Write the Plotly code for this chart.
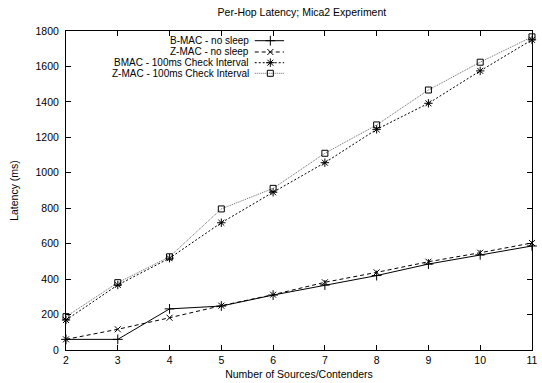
import plotly.graph_objects as go

# Number of competing sources and measured per-hop latency (ms)
contenders = [2, 3, 4, 5, 6, 7, 8, 9, 10, 11]
bmac_nosleep = [60, 60, 232, 248, 310, 367, 420, 485, 537, 587]
zmac_nosleep = [60, 117, 182, 250, 312, 382, 438, 498, 549, 604]
bmac_100ms = [169, 367, 518, 718, 890, 1057, 1245, 1392, 1575, 1750]
zmac_100ms = [188, 380, 526, 796, 912, 1110, 1270, 1467, 1624, 1767]

series_names = [
    "B-MAC - no sleep",
    "Z-MAC - no sleep",
    "BMAC - 100ms Check Interval",
    "Z-MAC - 100ms Check Interval",
]
x_ticks = contenders
y_ticks = [0, 200, 400, 600, 800, 1000, 1200, 1400, 1600, 1800]

FONT = "Liberation Sans, Arial, Helvetica, sans-serif"
FS = 10.5

styles = [
    dict(color="black", dash="solid", symbol="cross-thin", size=7),
    dict(color="black", dash="4px,3px", symbol="x-thin", size=6),
    dict(color="black", dash="2px,2px", symbol="asterisk", size=7),
    dict(color="#666666", dash="1px,1px", symbol="square-open", size=6),
]
values = [bmac_nosleep, zmac_nosleep, bmac_100ms, zmac_100ms]

fig = go.Figure()
for name, ys, st in zip(series_names, values, styles):
    fig.add_trace(go.Scatter(
        x=contenders, y=ys, name=name, mode="lines+markers",
        line=dict(color=st["color"], width=1, dash=st["dash"]),
        marker=dict(symbol=st["symbol"], size=st["size"], color="black",
                    line=dict(color="black", width=1)),
        showlegend=False, cliponaxis=False,
    ))

# Key in the upper-left corner: label text followed by a line sample
key_rows = [0.9696, 0.9342, 0.9006, 0.8674]
for name, st, v in zip(series_names, styles, key_rows):
    fig.add_trace(go.Scatter(
        x=[0.405, 0.468], y=[v, v], mode="lines", xaxis="x2", yaxis="y2",
        line=dict(color=st["color"], width=1, dash=st["dash"]),
        showlegend=False, hoverinfo="skip",
    ))
    fig.add_trace(go.Scatter(
        x=[0.4385], y=[v], mode="markers", xaxis="x2", yaxis="y2",
        marker=dict(symbol=st["symbol"], size=st["size"], color="black",
                    line=dict(color="black", width=1)),
        showlegend=False, hoverinfo="skip",
    ))
    fig.add_annotation(
        x=0.394, y=v, xref="x2", yref="y2", text=name, showarrow=False,
        xanchor="right", yanchor="middle", borderpad=0,
        font=dict(size=10, color="black", family=FONT),
    )

axis_common = dict(
    showline=True, linecolor="black", linewidth=1, mirror="allticks",
    ticks="inside", ticklen=5, tickcolor="black", tickwidth=1,
    showgrid=False, zeroline=False, ticklabeloverflow="allow",
    tickfont=dict(size=FS, color="black", family=FONT),
)

fig.update_layout(
    width=542, height=383,
    margin=dict(l=66, r=4, t=31, b=33),
    paper_bgcolor="white", plot_bgcolor="white",
    title=dict(text="Per-Hop Latency; Mica2 Experiment", x=0.557, xanchor="center",
               y=0.968, yanchor="middle",
               font=dict(size=FS, color="black", family=FONT)),
    xaxis=dict(range=[2, 11.0005], tickvals=x_ticks,
               title=dict(text="Number of Sources/Contenders", standoff=6,
                          font=dict(size=FS, color="black", family=FONT)),
               **axis_common),
    yaxis=dict(range=[0, 1800], tickvals=y_ticks, ticklabelstandoff=4,
               title=dict(text="Latency (ms)", standoff=14,
                          font=dict(size=FS, color="black", family=FONT)),
               **axis_common),
    xaxis2=dict(range=[0, 1], overlaying="x", visible=False),
    yaxis2=dict(range=[0, 1], overlaying="y", visible=False),
    showlegend=False,
)

fig.write_html("out.html")
